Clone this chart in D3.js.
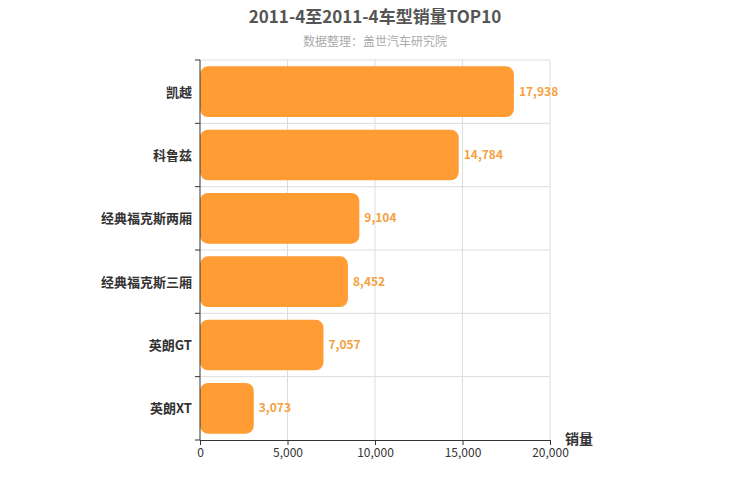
<!DOCTYPE html>
<html><head><meta charset="utf-8">
<script src="https://cdn.jsdelivr.net/npm/d3@7/dist/d3.min.js"></script>
<style>body{margin:0;background:#fff}</style></head>
<body><svg id="c" width="750" height="500"></svg>
<script>
const categories=["凯越","科鲁兹","经典福克斯两厢","经典福克斯三厢","英朗GT","英朗XT"];
const values=[17938,14784,9104,8452,7057,3073];
const xTicks=[0,5000,10000,15000,20000];
const font="'Noto Sans CJK SC','Noto Sans',sans-serif";
const svg=d3.select("#c");
const m={l:200,r:550,t:60,b:440};
const x=d3.scaleLinear().domain([0,20000]).range([m.l,m.r]);
const y=d3.scaleBand().domain(categories).range([m.t,m.b]).paddingInner(0.2).paddingOuter(0.1);
const step=y.step();
// grid
svg.selectAll(".vg").data(xTicks.slice(1)).enter().append("line")
 .attr("x1",d=>x(d)).attr("x2",d=>x(d)).attr("y1",m.t).attr("y2",m.b).attr("stroke","#ddd");
svg.selectAll(".hg").data(d3.range(categories.length)).enter().append("line")
 .attr("x1",m.l).attr("x2",m.r).attr("y1",i=>m.t+i*(m.b-m.t)/categories.length).attr("y2",i=>m.t+i*(m.b-m.t)/categories.length).attr("stroke","#ddd");
// bars
svg.selectAll(".bar").data(values).enter().append("rect")
 .attr("x",x(0)).attr("y",(d,i)=>y(categories[i])).attr("width",d=>x(d)-x(0)).attr("height",y.bandwidth())
 .attr("rx",8).attr("fill","#ff9c33");
svg.selectAll(".vl").data(values).enter().append("text")
 .attr("x",d=>x(d)+5).attr("y",(d,i)=>y(categories[i])+y.bandwidth()/2+4)
 .attr("fill","#f5a142").attr("font-size",12).attr("font-weight","bold").attr("font-family",font)
 .text(d=>d3.format(",")(d));
// axes
const xa=svg.append("g").attr("transform",`translate(0,${m.b})`).call(d3.axisBottom(x).tickValues(xTicks).tickFormat(d3.format(",")).tickSize(5));
xa.selectAll("text").attr("font-size",12).attr("fill","#333").attr("font-family",font);
xa.selectAll("line,path").attr("stroke","#333");
const ya=svg.append("g").attr("transform",`translate(${m.l},0)`);
ya.append("line").attr("x1",0).attr("x2",0).attr("y1",m.t).attr("y2",m.b).attr("stroke","#333");
ya.selectAll(".t").data(d3.range(categories.length+1)).enter().append("line")
 .attr("x1",-5).attr("x2",0).attr("y1",i=>m.t+i*(m.b-m.t)/categories.length).attr("y2",i=>m.t+i*(m.b-m.t)/categories.length).attr("stroke","#333");
ya.selectAll("text").data(categories).enter().append("text")
 .attr("x",-8).attr("y",d=>y(d)+y.bandwidth()/2+5).attr("text-anchor","end")
 .attr("font-size",13).attr("font-weight","bold").attr("fill","#333").attr("font-family",font).text(d=>d);
svg.append("text").attr("x",565).attr("y",444).attr("font-size",14).attr("font-weight","bold").attr("fill","#333").attr("font-family",font).text("销量");
svg.append("text").attr("x",375).attr("y",23).attr("text-anchor","middle").attr("font-size",17).attr("font-weight","bold").attr("fill","#555").attr("font-family",font).text("2011-4至2011-4车型销量TOP10");
svg.append("text").attr("x",375).attr("y",46).attr("text-anchor","middle").attr("font-size",12).attr("fill","#aaa").attr("font-family",font).text("数据整理：盖世汽车研究院");
</script></body></html>
